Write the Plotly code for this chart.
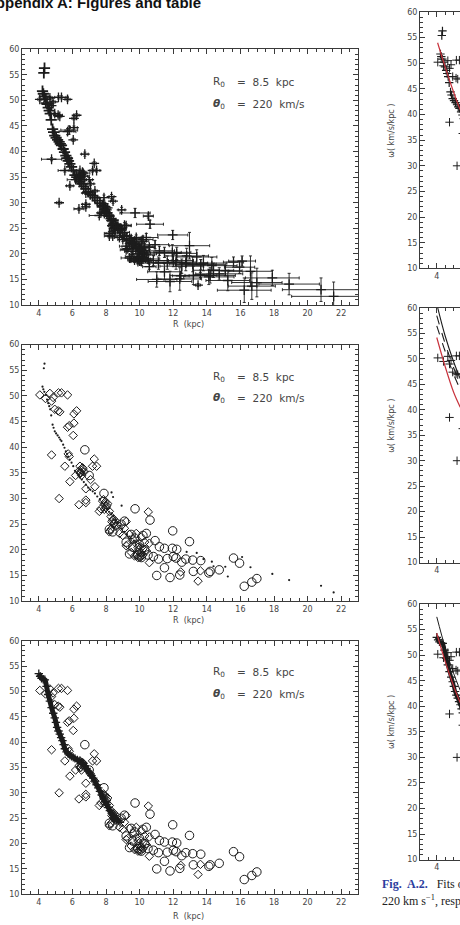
import plotly.graph_objects as go

# ---------------- data ----------------
# HII-region type objects (diamonds)
hii_R = [4.06, 4.40, 4.66, 4.76, 4.85, 4.95, 5.15, 5.25, 5.17, 5.35, 5.71, 5.81, 5.71, 6.09, 6.25,
         6.09, 6.05, 4.76, 5.75, 5.81, 5.55, 5.21, 5.85, 6.19, 6.41, 6.45, 6.64, 6.54, 6.39, 6.80,
         6.80, 6.80, 7.30, 7.44, 7.20, 7.08, 7.34, 7.60, 10.52, 10.58, 10.58, 13.48, 13.62, 12.45,
         7.80, 7.90, 8.00, 8.10, 7.70, 8.20, 8.30, 8.40, 8.50, 8.60, 8.70, 8.30, 8.20, 8.80, 9.00,
         9.20, 9.10, 9.40, 9.60, 9.80, 9.90, 10.00, 9.70, 9.90, 10.10, 10.20, 10.30, 9.50, 9.30, 9.20,
         9.80, 10.10, 10.40, 6.50, 6.60, 6.55, 6.45, 6.70, 7.85, 7.95, 8.05, 7.90, 8.35, 8.45, 8.55,
         8.45, 9.85, 10.00, 10.10, 9.95, 10.20]
hii_w = [50.2, 49.5, 50.5, 49.0, 49.7, 47.4, 47.1, 46.9, 50.6, 50.6, 50.2, 44.2, 43.9, 46.5, 47.1,
         44.7, 42.3, 38.5, 38.7, 38.2, 36.3, 30.0, 33.3, 34.5, 35.4, 36.3, 35.8, 34.5, 28.8, 29.2,
         29.7, 31.9, 37.7, 36.3, 36.3, 33.7, 32.3, 27.5, 27.4, 21.3, 17.5, 13.9, 15.9, 15.7,
         29.5, 28.8, 28.2, 29.0, 28.0, 27.5, 26.5, 25.8, 25.2, 25.5, 24.8, 24.0, 23.5, 23.2, 22.8,
         25.5, 24.2, 23.0, 22.0, 21.2, 20.5, 19.5, 18.8, 18.5, 18.7, 20.2, 21.5, 19.5, 21.0, 20.8,
         23.2, 22.5, 19.8, 35.0, 36.0, 35.5, 35.0, 35.2, 29.8, 29.3, 28.6, 27.9, 25.5, 25.0, 24.6,
         26.0, 19.0, 18.6, 19.3, 20.0, 19.0]
hii_dR = [0.12, 0.12, 0.15, 0.12, 0.15, 0.2, 0.25, 0.12, 0.45, 0.4, 0.15, 0.5, 0.5, 0.12, 0.15,
          0.2, 0.12, 0.6, 0.2, 0.15, 0.4, 0.15, 0.2, 0.5, 0.3, 0.2, 0.4, 0.3, 0.3, 0.2,
          0.2, 0.2, 0.12, 0.2, 0.15, 0.2, 0.15, 0.6, 0.3, 0.3, 0.4, 0.15, 0.4, 0.5,
          0.15, 0.15, 0.2, 0.15, 0.2, 0.2, 0.2, 0.2, 0.25, 0.2, 0.2, 0.3, 0.3, 0.3, 0.3,
          0.3, 0.3, 0.35, 0.4, 0.4, 0.4, 0.4, 0.4, 0.45, 0.45, 0.45, 0.5, 0.35, 0.35, 0.35,
          0.4, 0.45, 0.5, 0.2, 0.2, 0.2, 0.2, 0.2, 0.15, 0.15, 0.15, 0.15, 0.2, 0.2, 0.2,
          0.2, 0.4, 0.4, 0.45, 0.4, 0.45]
hii_dw = [0.3, 0.3, 0.3, 0.3, 0.3, 0.3, 0.3, 0.3, 0.3, 0.3, 0.3, 0.8, 0.6, 0.3, 0.3,
          0.3, 0.3, 0.3, 0.3, 0.3, 0.3, 0.3, 0.3, 0.3, 0.3, 0.3, 0.3, 0.3, 0.3, 0.3,
          0.3, 0.3, 0.3, 0.3, 0.3, 0.3, 0.3, 0.4, 0.4, 0.4, 0.5, 0.3, 0.5, 0.5,
          0.3, 0.3, 0.3, 0.3, 0.3, 0.3, 0.3, 0.3, 0.3, 0.3, 0.3, 0.4, 0.4, 0.4, 0.4,
          0.4, 0.4, 0.4, 0.5, 0.5, 0.5, 0.5, 0.5, 0.5, 0.5, 0.5, 0.5, 0.4, 0.4, 0.4,
          0.5, 0.5, 0.5, 0.3, 0.3, 0.3, 0.3, 0.3, 0.3, 0.3, 0.3, 0.3, 0.3, 0.3, 0.3,
          0.3, 0.5, 0.5, 0.5, 0.5, 0.5]

# outer objects (open circles)
circ_R = [6.74, 7.00, 7.88, 9.73, 10.62, 11.97, 12.97, 10.92, 11.18, 11.48, 11.95, 12.21, 10.82,
          11.12, 11.65, 12.01, 12.17, 12.51, 12.75, 13.16, 13.64, 11.48, 11.02, 11.81, 12.39, 13.20,
          14.12, 14.20, 14.74, 15.59, 15.95, 16.23, 16.68, 16.98,
          9.50, 9.70, 10.00, 10.20, 9.90, 10.30, 10.50, 9.60, 10.40, 8.90, 9.10, 10.10, 9.40, 8.20,
          8.40, 9.20]
circ_w = [39.5, 34.5, 31.0, 28.0, 25.8, 23.7, 21.6, 21.8, 20.6, 20.3, 20.3, 20.1, 18.7,
          18.2, 18.3, 18.7, 18.4, 17.6, 18.2, 18.0, 17.9, 16.5, 15.0, 14.6, 15.1, 15.8,
          15.5, 15.8, 16.1, 18.4, 17.4, 12.9, 13.7, 14.4,
          23.0, 22.3, 21.0, 22.8, 19.0, 20.0, 19.0, 20.5, 23.2, 25.0, 25.6, 18.5, 19.2, 24.0,
          23.5, 21.5]
circ_dR = [0.2, 0.2, 0.3, 0.9, 0.8, 0.9, 1.2, 0.8, 0.9, 1.0, 1.1, 1.2, 0.9,
           1.0, 1.1, 1.2, 1.2, 1.3, 1.3, 1.4, 1.5, 1.0, 1.2, 1.3, 1.3, 1.4,
           1.5, 1.5, 1.4, 0.6, 0.9, 1.6, 1.4, 1.5,
           0.5, 0.5, 0.6, 0.6, 0.6, 0.7, 0.7, 0.5, 0.7, 0.3, 0.4, 0.6, 0.5, 0.3,
           0.3, 0.4]
circ_dw = [0.4, 0.4, 0.5, 0.9, 0.8, 0.9, 2.6, 0.8, 0.9, 1.0, 1.5, 1.2, 1.0,
           1.2, 1.3, 1.2, 1.4, 1.4, 1.5, 1.5, 1.0, 1.6, 1.5, 2.0, 2.2, 1.8,
           1.5, 1.5, 1.2, 1.0, 1.2, 2.4, 2.6, 2.8,
           0.6, 0.6, 0.7, 0.7, 0.6, 0.8, 0.8, 0.6, 0.8, 0.5, 0.5, 0.7, 0.6, 0.4,
           0.4, 0.5]

# tangent-point type data (small dots)
tp_R = [4.34, 4.30, 4.22, 4.27, 4.33, 4.42, 4.49, 4.56, 4.62, 4.68, 4.74, 4.82, 4.88, 4.95, 5.03,
        5.12, 5.21, 5.28, 5.35, 5.45, 5.53, 5.61, 5.68, 5.75, 5.85, 5.95, 6.05, 6.15, 6.26, 6.37,
        6.45, 6.56, 6.68, 6.80, 6.94, 7.07, 7.21, 7.34, 7.48, 7.64, 7.78, 7.92, 8.06, 8.18, 8.30,
        8.43, 8.57, 8.70, 8.84, 8.97, 9.10, 9.24, 9.38, 9.52, 9.66, 9.80, 9.95, 10.08, 10.22]
tp_w = [56.3, 55.4, 51.8, 51.3, 50.8, 50.2, 49.3, 48.6, 48.0, 47.4, 46.2, 44.4, 43.8, 43.1, 42.7,
        42.3, 41.9, 41.5, 41.2, 40.5, 39.9, 39.2, 38.7, 38.2, 37.6, 37.0, 36.3, 35.4, 35.0, 34.6,
        34.1, 33.7, 33.2, 32.7, 32.1, 31.7, 31.4, 31.0, 30.4, 29.9, 29.2, 28.6, 28.0, 27.4, 26.9,
        26.6, 25.8, 25.3, 24.7, 24.1, 23.5, 23.0, 22.6, 22.2, 21.8, 21.5, 21.2, 20.9, 20.6]

# far outer dots
far_R = [8.33, 8.42, 8.93, 12.80, 13.40, 13.80, 14.30, 14.40, 15.10, 15.25, 16.10, 16.60, 17.90,
         18.90, 20.80, 21.55]
far_w = [31.2, 30.3, 28.6, 19.6, 19.4, 18.2, 17.7, 16.8, 16.7, 14.8, 18.6, 16.6, 15.3,
         14.1, 13.0, 11.7]
far_dR = [0.15, 0.15, 0.2, 1.3, 1.2, 1.4, 1.5, 1.2, 1.0, 1.3, 0.8, 1.3, 1.6, 1.8, 2.3, 2.5]
far_dw = [0.4, 0.4, 0.5, 1.5, 1.4, 1.5, 1.6, 1.4, 1.0, 2.0, 1.0, 3.0, 1.5, 2.1, 2.3, 2.8]

# dense band (third panel)
band_R = [4.00, 4.08, 4.16, 4.26, 4.36, 4.46, 4.56, 4.66, 4.76, 4.86, 4.95, 5.02, 5.09, 5.17, 5.25,
          5.33, 5.41, 5.48, 5.55, 5.65, 5.75, 5.85, 5.95, 6.05, 6.15, 6.30, 6.45, 6.55, 6.64, 6.74,
          6.84, 6.94, 7.04, 7.14, 7.24, 7.34, 7.44, 7.54, 7.64, 7.74, 7.84, 7.94, 8.04, 8.14, 8.23,
          8.33, 8.43, 8.53, 8.63, 8.73, 8.83]
band_w = [53.5, 53.0, 52.6, 52.4, 52.3, 51.0, 49.4, 48.1, 46.8, 45.7, 44.8, 43.9, 42.9, 42.2, 41.6,
          40.9, 40.3, 39.5, 38.7, 38.1, 37.7, 37.4, 37.2, 37.0, 36.8, 36.5, 36.3, 36.0, 35.8, 35.3,
          34.8, 34.3, 33.9, 33.4, 32.9, 32.3, 31.6, 31.0, 30.3, 29.6, 29.0, 28.3, 27.7, 27.1, 26.5,
          26.0, 25.5, 25.1, 24.8, 24.5, 24.2]

# fit curves of the right-hand (cut) panels
fitA_R = [4.05, 4.40, 4.80, 5.20, 5.40]
fitA_red = [54.0, 50.3, 46.3, 42.6, 40.9]
fitB_R = [4.00, 4.50, 5.00, 5.40]
fitB_solid = [60.8, 54.5, 49.5, 46.1]
fitB_dash1 = [58.5, 53.0, 48.3, 45.1]
fitB_dash2 = [56.5, 51.5, 47.0, 44.0]
fitB_red = [54.2, 48.5, 43.5, 40.5]
fitC_R = [4.00, 4.50, 5.00, 5.40]
fitC_black = [57.5, 51.5, 46.5, 43.1]
fitC_red = [54.3, 48.8, 44.0, 40.7]

x_ticks = [4, 6, 8, 10, 12, 14, 16, 18, 20, 22]
y_ticks = [10, 15, 20, 25, 30, 35, 40, 45, 50, 55, 60]

for a, b in [(hii_R, hii_w), (hii_R, hii_dR), (hii_R, hii_dw), (circ_R, circ_w), (circ_R, circ_dR),
             (circ_R, circ_dw), (tp_R, tp_w), (far_R, far_w), (far_R, far_dR), (far_R, far_dw),
             (band_R, band_w)]:
    assert len(a) == len(b), (len(a), len(b))

# ---------------- layout helpers ----------------
W, H = 460, 925
INK = '#1c1c1c'
AX = '#3a3a3a'
LBL = '#454545'
RED = '#c8323c'
TF = dict(family='DejaVu Sans', size=8, color=LBL)


def dom_y(top, bottom):
    return [1 - bottom / H, 1 - top / H]


def xaxis(domain, anchor, rng, mirror='ticks'):
    return dict(domain=domain, anchor=anchor, range=rng, showline=True, linecolor=AX, linewidth=1,
                mirror=mirror, ticks='inside', ticklen=5, tickwidth=1, tickcolor=AX,
                tickmode='array', tickvals=x_ticks, ticktext=[str(v) for v in x_ticks],
                minor=dict(dtick=0.5, tick0=0, ticks='inside', ticklen=3, tickwidth=1, tickcolor=AX,
                           showgrid=False),
                showgrid=False, zeroline=False, tickfont=TF, fixedrange=True)


def yaxis(domain, anchor, mirror='ticks'):
    return dict(domain=domain, anchor=anchor, range=[10, 60], showline=True, linecolor=AX,
                linewidth=1, mirror=mirror, ticks='inside', ticklen=5, tickwidth=1, tickcolor=AX,
                tickmode='array', tickvals=y_ticks, ticktext=[str(v) for v in y_ticks],
                minor=dict(dtick=1, tick0=0, ticks='inside', ticklen=3, tickwidth=1, tickcolor=AX,
                           showgrid=False),
                showgrid=False, zeroline=False, tickfont=TF, fixedrange=True)


left_dom = [22 / W, 358 / W]
right_dom = [420 / W, 1.0]
left_y = [(45.7, 304), (344, 603), (643, 899)]
right_y = [(8, 267), (307, 564), (606, 864)]

fig = go.Figure()


def cross(R, w, ax, size=7, lw=1.3, dx=None, dw=None):
    kw = {}
    if dx is not None:
        kw['error_x'] = dict(type='data', array=dx, thickness=0.9, width=1.5, color=INK)
        kw['error_y'] = dict(type='data', array=dw, thickness=0.9, width=1.5, color=INK)
    fig.add_trace(go.Scatter(x=R, y=w, mode='markers', xaxis='x' + ax, yaxis='y' + ax,
                             marker=dict(symbol='cross-thin', size=size, color=INK,
                                         line=dict(width=lw, color=INK)),
                             showlegend=False, hoverinfo='skip', **kw))


def pts(R, w, ax, symbol, size, lw=1.0):
    fig.add_trace(go.Scatter(x=R, y=w, mode='markers', xaxis='x' + ax, yaxis='y' + ax,
                             marker=dict(symbol=symbol, size=size, color=INK,
                                         line=dict(width=lw, color=INK)),
                             showlegend=False, hoverinfo='skip'))


def line(R, w, ax, color=INK, width=1.2, dash='solid'):
    fig.add_trace(go.Scatter(x=R, y=w, mode='lines', xaxis='x' + ax, yaxis='y' + ax,
                             line=dict(color=color, width=width, dash=dash, shape='spline'),
                             showlegend=False, hoverinfo='skip'))


# panel 1 : all data with error bars
cross(far_R, far_w, '', dx=far_dR, dw=far_dw)
cross(circ_R, circ_w, '', dx=circ_dR, dw=circ_dw)
cross(hii_R, hii_w, '', dx=hii_dR, dw=hii_dw)
cross(tp_R, tp_w, '', size=8, lw=1.8)

# panel 2 : symbols
pts(tp_R, tp_w, '2', 'circle', 2.2, 0)
pts(far_R, far_w, '2', 'circle', 2.2, 0)
pts(hii_R, hii_w, '2', 'diamond-open', 6.5, 1.0)
pts(circ_R, circ_w, '2', 'circle-open', 8.5, 1.0)

# panel 3 : band + symbols
line(band_R, band_w, '3', INK, 5)
cross(band_R, band_w, '3', size=6, lw=1.3)
pts(hii_R, hii_w, '3', 'diamond-open', 6.5, 1.0)
pts(circ_R, circ_w, '3', 'circle-open', 8.5, 1.0)

# right panel A
cross(tp_R, tp_w, '4', size=6, lw=1.2)
cross(hii_R, hii_w, '4', size=6, lw=1.0)
line(fitA_R, fitA_red, '4', RED, 1.2)

# right panel B
cross(hii_R, hii_w, '5', size=6, lw=1.0)
line(fitB_R, fitB_solid, '5', INK, 1.1)
line(fitB_R, fitB_dash1, '5', INK, 1.1, 'dash')
line(fitB_R, fitB_dash2, '5', INK, 1.1, 'dash')
line(fitB_R, fitB_red, '5', RED, 1.2)

# right panel C
line(band_R, band_w, '6', INK, 4)
cross(band_R, band_w, '6', size=6, lw=1.2)
cross(hii_R, hii_w, '6', size=6, lw=1.0)
line(fitC_R, fitC_black, '6', INK, 1.0)
line(fitC_R, fitC_red, '6', RED, 1.2)

layout = dict(width=W, height=H, margin=dict(l=0, r=0, t=0, b=0), paper_bgcolor='white',
              plot_bgcolor='white', showlegend=False)
names = ['', '2', '3', '4', '5', '6']
for i, n in enumerate(names):
    if i < 3:
        t, b = left_y[i]
        layout['xaxis' + n] = xaxis(left_dom, 'y' + n, [3, 23])
        layout['yaxis' + n] = yaxis(dom_y(t, b), 'x' + n)
    else:
        t, b = right_y[i - 3]
        layout['xaxis' + n] = xaxis(right_dom, 'y' + n, [3, 3 + 40 / 16.77])
        layout['yaxis' + n] = yaxis(dom_y(t, b), 'x' + n, mirror=False)
fig.update_layout(**layout)

ann = []


def note(x, y, text, size=10, color=LBL, family='DejaVu Sans', xanchor='left', angle=0):
    ann.append(dict(x=x / W, y=1 - y / H, xref='paper', yref='paper', text=text, showarrow=False,
                    xanchor=xanchor, yanchor='middle', textangle=angle,
                    font=dict(family=family, size=size, color=color)))


for (y1, y2) in [(79, 101), (377, 398), (675, 697)]:
    note(211, y1, 'R<sub>0</sub>', 10.5)
    note(235, y1, '=  8.5  kpc', 10.5)
    note(211, y2, '<b><i>θ</i></b><sub>0</sub>', 10.5)
    note(235, y2, '=  220  km/s', 10.5)

for y in [324, 623, 921]:
    note(188, y, 'R  (kpc)', 8, xanchor='center')

for y in [128, 426, 725]:
    note(392, y, 'ω( km/s/kpc )', 8, xanchor='center', angle=-90)

note(203, -2, '<b>Appendix A: Figures and table</b>', 15, '#111', 'Liberation Sans', 'right')
note(380, 889, '<span style="color:#2b3d9e"><b>Fig.  A.2.</b></span>   Fits of the rotation curve',
     12, '#222', 'Liberation Serif')
note(380, 905, '220 km s<sup>−1</sup>, respectively', 12, '#222', 'Liberation Serif')

fig.update_layout(annotations=ann)
fig.write_html('out.html', config={'displayModeBar': False})
